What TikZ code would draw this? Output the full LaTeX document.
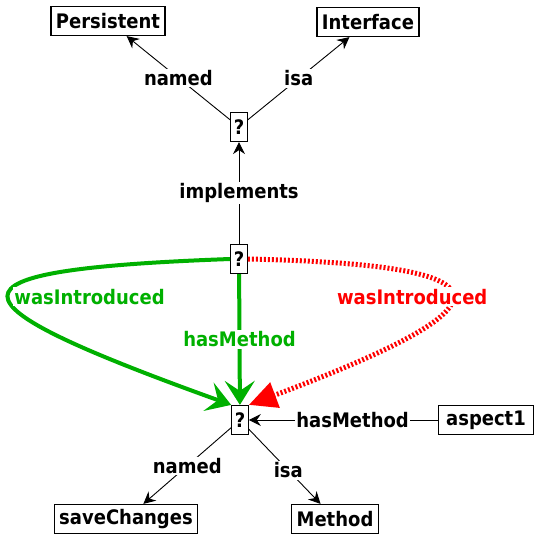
\documentclass[tikz,border=0pt]{standalone}
\usepackage{fontspec}
\setmainfont{DejaVu Sans Condensed}
\usetikzlibrary{arrows.meta}
\definecolor{relgreen}{RGB}{0,176,0}

\begin{document}
\begin{tikzpicture}[x=1pt, y=-1pt,
  every node/.style={font=\bfseries\fontsize{20}{22}\selectfont},
  box/.style={draw, line width=1.2pt, inner xsep=5pt, inner ysep=0pt, minimum height=29pt},
  qbox/.style={box, inner xsep=3pt},
  lbl/.style={fill=white, inner sep=1.5pt},
  arr/.style={-{Stealth[length=12pt,width=12pt,inset=4pt]}, line width=0.9pt},
  greenrel/.style={draw=relgreen, line width=4pt, -{Stealth[length=24pt,width=30pt,inset=10pt]}},
  redrel/.style={draw=red, line width=5pt, dash pattern=on 2pt off 2pt, -{Triangle[length=28pt,width=26pt]}}
]
\useasboundingbox (0,0) rectangle (537,534);

% the nodes
\node[box] (persistent) at (108,21) {Persistent};
\node[box] (interface) at (368,22) {Interface};
\node[qbox] (q1) at (239,127) {?};
\node[qbox] (q2) at (239,259) {?};
\node[qbox] (q3) at (240,420) {?};
\node[box, inner xsep=8pt] (aspect1) at (486,420) {aspect1};
\node[box] (savechanges) at (126,519) {saveChanges};
\node[box] (method) at (335,519) {Method};

% black relations
\draw[arr] (q1) -- node[lbl]{named} (persistent);
\draw[arr] (q1) -- node[lbl]{isa} (interface);
\draw[arr] (q2) -- node[lbl]{implements} (q1);
\draw[arr] (aspect1) -- node[lbl, pos=0.45]{hasMethod} (q3);
\draw[arr] (q3) -- node[lbl]{named} (savechanges);
\draw[arr] (q3) -- node[lbl, pos=0.55]{isa} (method);

% green relations
\draw[greenrel] (q2) -- node[lbl, text=relgreen]{hasMethod} (q3);
\draw[greenrel] (q2.west) .. controls (-70,270) and (-60,300) ..
  node[lbl, text=relgreen, pos=0.5, anchor=west, xshift=2pt]{wasIntroduced} (q3.north west);

% red relation
\draw[redrel] (q2.east) .. controls (520,265) and (515,305) ..
  node[lbl, text=red, pos=0.5, xshift=-38pt]{wasIntroduced} (q3.north east);
\end{tikzpicture}
\end{document}
